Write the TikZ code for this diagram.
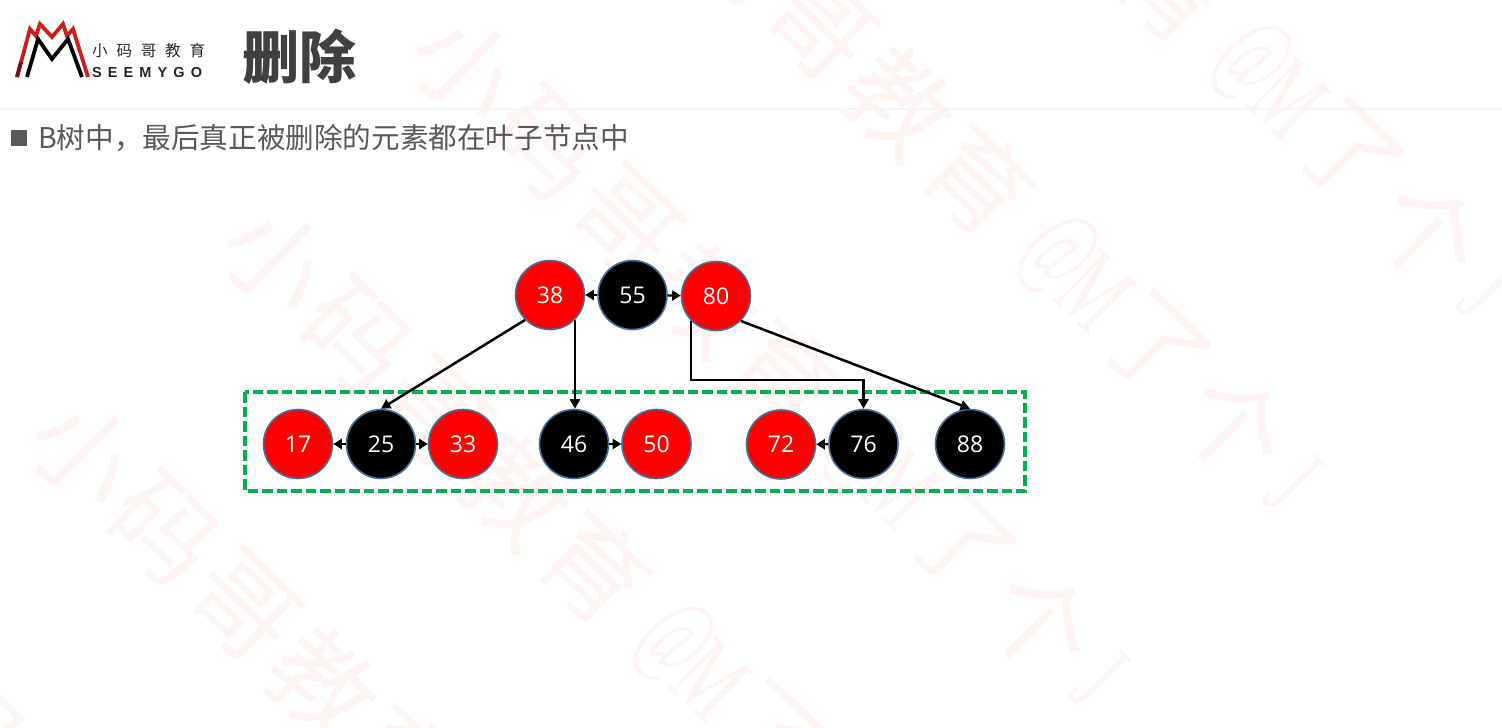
\documentclass[tikz,border=0pt]{standalone}
\usepackage{fontspec}
\usetikzlibrary{arrows.meta}
\setmainfont{Noto Sans CJK SC}
\newfontfamily\cjkfont{Noto Sans CJK SC}
\newfontfamily\numfont{Open Sans}
\newfontfamily\wmlatin{Liberation Serif}
\newfontfamily\logolatin{Liberation Sans}
\definecolor{wmpink}{HTML}{FEF5F3}
\definecolor{rulegray}{HTML}{F6F6F6}
\definecolor{bodygray}{HTML}{595959}
\definecolor{titlegray}{HTML}{404040}
\definecolor{ringblue}{HTML}{41719C}
\definecolor{boxgreen}{HTML}{00B050}
\definecolor{logored}{HTML}{C8201D}
\definecolor{logodark}{HTML}{6E1212}
\tikzset{
  wm/.style={text=wmpink,inner sep=0pt,rotate=-44,font=\cjkfont\fontsize{104}{104}\selectfont},
  wmlat/.style={text=wmpink,inner sep=0pt,rotate=-44,xscale=0.58,font=\wmlatin\fontsize{108}{108}\selectfont},
  treenode/.style={circle,minimum size=69pt,inner sep=0pt,draw=ringblue,line width=1.6pt,text=white,font=\numfont\fontsize{23}{23}\selectfont},
  rednode/.style={treenode,fill=red},
  blacknode/.style={treenode,fill=black},
  link/.style={line width=2.5pt,draw=black,-{Triangle[length=9.5pt,width=10pt]}},
  sib/.style={line width=2.2pt,draw=black,-{Triangle[length=8.5pt,width=10pt]}},
}
\begin{document}
\begin{tikzpicture}[x=1pt,y=1pt]
\useasboundingbox (0,0) rectangle (1502,-728);
\fill[white] (0,0) rectangle (1502,-728);
% watermark rows
\foreach \rx/\ry/\r in {-111/648/z,84/453/a,276/260/b,466/68/c,660/-128/d,854/-321/e}{
  \foreach \d/\ch in {0/小,111/码,222/哥,333/教,444/育,687/了,798/个}{
    \node[wm,name=wm-\r-\d] at ({\rx+\d*cos(44)},{-\ry-\d*sin(44)}) {\ch};
  }
  \foreach \d/\ch in {552/@,605/M,880/J}{
    \node[wmlat,name=wm-\r-\d] at ({\rx+\d*cos(44)},{-\ry-\d*sin(44)}) {\ch};
  }
}
% header rule
\draw[rulegray,line width=2pt] (0,-109) -- (1502,-109);
% logo
\draw[logored,line width=3.8pt,line join=miter] (17,-77) -- (30,-29) -- (36,-36) -- (40,-24) -- (52,-37) -- (63,-24) -- (67,-36) -- (73,-29) -- (88,-77);
\draw[logodark,line width=3.8pt] (17,-77) -- (21,-62);
\draw[black,line width=3.8pt,line join=miter] (27,-77) -- (38,-39) -- (52,-59) -- (68,-39) -- (82,-77);
\node[anchor=west,inner sep=0pt,font=\cjkfont\fontsize{15.5}{15.5}\selectfont\addfontfeature{LetterSpace=57},text=black!85] (logocn) at (92,-51) {小码哥教育};
\node[anchor=west,inner sep=0pt,font=\logolatin\bfseries\fontsize{14.5}{14.5}\selectfont\addfontfeature{LetterSpace=42},text=black!85] (logoen) at (92,-72.5) {SEEMYGO};
% title
\node[anchor=west,inner sep=0pt,text=titlegray,font=\cjkfont\bfseries\fontsize{57}{57}\selectfont] (title) at (242,-57) {删除};
% bullet and text
\fill[bodygray] (11,-130) rectangle (27,-146);
\node[anchor=west,inner sep=0pt,text=bodygray,font=\cjkfont\fontsize{28.6}{28.6}\selectfont] (bullettext) at (38,-138) {B树中，最后真正被删除的元素都在叶子节点中};
% green box
\draw[boxgreen,line width=3.4pt,dash pattern=on 10.5pt off 4pt] (245,-392) rectangle (1025,-491);
% nodes
\node[rednode] (n38) at (550,-295) {38};
\node[blacknode] (n55) at (632.5,-295) {55};
\node[rednode] (n80) at (716,-296) {80};
\node[rednode] (n17) at (298,-444) {17};
\node[blacknode] (n25) at (381,-444) {25};
\node[rednode] (n33) at (463,-444) {33};
\node[blacknode] (n46) at (574,-444) {46};
\node[rednode] (n50) at (656.5,-444) {50};
\node[rednode] (n72) at (781,-444.5) {72};
\node[blacknode] (n76) at (863.5,-444) {76};
\node[blacknode] (n88) at (970,-444) {88};
% connectors
\draw[sib] (n55) -- (n38);
\draw[sib] (n55) -- (n80);
\draw[sib] (n25) -- (n17);
\draw[sib] (n25) -- (n33);
\draw[sib] (n46) -- (n50);
\draw[sib] (n76) -- (n72);
\coordinate (turn) at (800,-380);
\draw[link] (n38.225) -- (n25.north);
\draw[link] (n38.-45) -- (n38.-45 |- n46.north);
\draw[link] (n80.225) -- (n80.225 |- turn) -- (turn -| n76.north) -- (n76.north);
\draw[link] (n80.-45) -- (n88.north);
\end{tikzpicture}
\end{document}
